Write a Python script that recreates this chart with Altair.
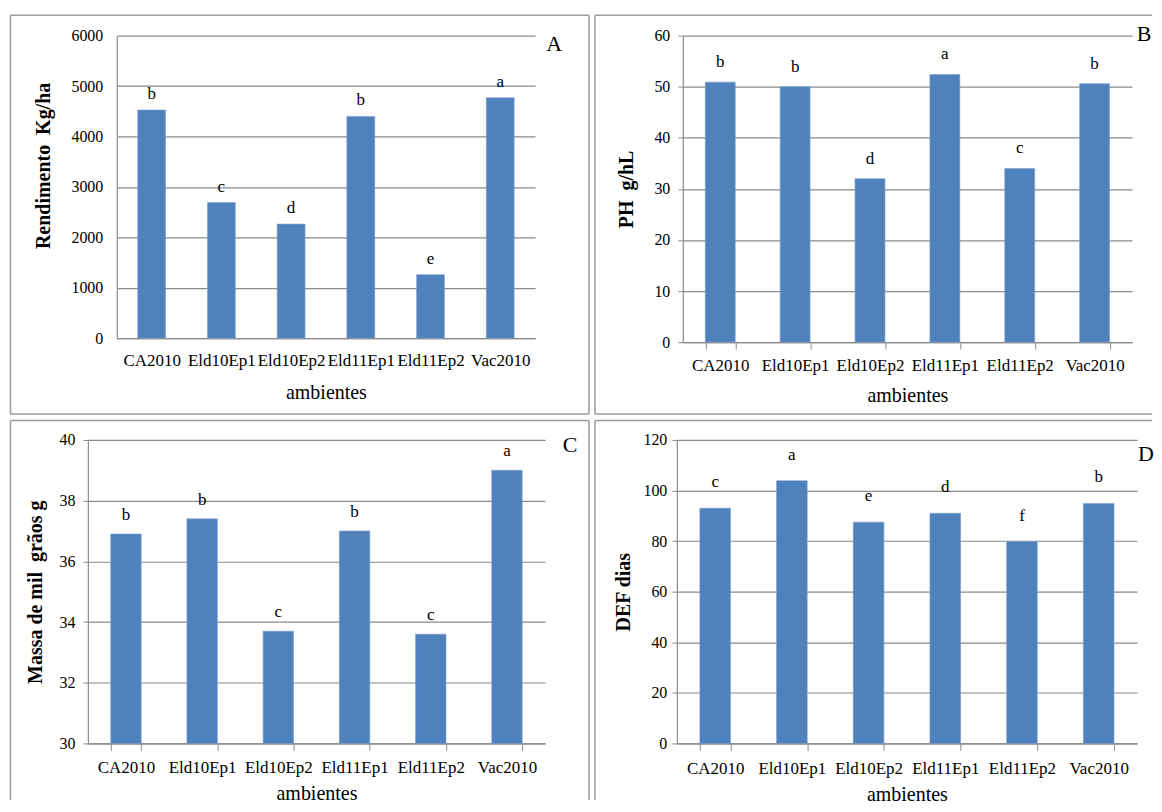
import altair as alt
import pandas as pd

categories = ["CA2010", "Eld10Ep1", "Eld10Ep2", "Eld11Ep1", "Eld11Ep2", "Vac2010"]

rendimento = [4525, 2690, 2262, 4398, 1259, 4768]
rendimento_letras = ["b", "c", "d", "b", "e", "a"]

ph = [50.9, 50.0, 32.0, 52.4, 34.0, 50.6]
ph_letras = ["b", "b", "d", "a", "c", "b"]

massa = [36.9, 37.4, 33.7, 37.0, 33.6, 39.0]
massa_letras = ["b", "b", "c", "b", "c", "a"]

def_dias = [93.0, 103.9, 87.5, 91.0, 79.8, 94.9]
def_letras = ["c", "a", "e", "d", "f", "b"]

y_ticks_a = [0, 1000, 2000, 3000, 4000, 5000, 6000]
y_ticks_b = [0, 10, 20, 30, 40, 50, 60]
y_ticks_c = [30, 32, 34, 36, 38, 40]
y_ticks_d = [0, 20, 40, 60, 80, 100, 120]

FONT = "Liberation Serif"
BAR = "#4F81BD"
GRID = "#8a8a8a"
FRAME = "#9a9a9a"
one = pd.DataFrame({"k": [0]})


def seg(x, x2, y, y2):
    return alt.Chart(one).mark_rule(color=FRAME, strokeWidth=1.5).encode(
        x=alt.value(x), x2=alt.value(x2), y=alt.value(y), y2=alt.value(y2)
    )


def panel(values, letters, ytitle, yticks, letter, w, h, shift, segs, lpos, dy,
          ticks, ylp, ytp, xlp, xtp, title_y=None):
    # w: visible plot width; shift: how far the y axis sits left of the group origin
    df = pd.DataFrame({"amb": categories, "val": values, "let": letters})
    ymin, ymax = yticks[0], yticks[-1]
    yaxis_kw = dict(values=yticks, format="d", title=ytitle, ticks=ticks, tickSize=5,
                    tickColor=GRID, labelPadding=ylp, titlePadding=ytp,
                    domainColor=GRID, gridColor=GRID, grid=True)
    if shift:
        yaxis_kw["offset"] = shift
    if title_y is not None:
        yaxis_kw["titleY"] = title_y
    xscale = alt.Scale(paddingInner=0.6, paddingOuter=0.3, range=[-shift, w - shift])
    yscale = alt.Scale(domain=[ymin, ymax], nice=False, zero=False)
    x = alt.X("amb:N", sort=categories, scale=xscale, title="ambientes",
              axis=alt.Axis(labelAngle=0, ticks=ticks, tickBand="extent", tickSize=7,
                            tickColor=GRID, domainColor=GRID, labelPadding=xlp,
                            titlePadding=xtp, labelOverlap=False, labelLimit=200,
                            grid=False))
    y = alt.Y("val:Q", scale=yscale, axis=alt.Axis(**yaxis_kw))
    base = alt.Chart(df)
    bars = base.mark_bar(color=BAR, stroke="#7ea0cf", strokeWidth=0.6).encode(
        x=x, y=y, y2=alt.datum(ymin))
    labels = base.mark_text(font=FONT, fontSize=17, baseline="alphabetic", dy=dy,
                            color="black").encode(
        x=alt.X("amb:N", sort=categories), y=alt.Y("val:Q"), text="let:N")
    tag = alt.Chart(one).mark_text(font=FONT, fontSize=22, color="black").encode(
        x=alt.value(lpos[0]), y=alt.value(lpos[1]), text=alt.value(letter))
    layers = [bars, labels, tag] + [seg(*s) for s in segs]
    return alt.layer(*layers).properties(width=w - shift, height=h)


pA = panel(rendimento, rendimento_letras, "Rendimento\u00a0 Kg/ha", y_ticks_a, "A",
           419, 303, 0,
           [(-106.5, 473, -20.5, -20.5), (-106.5, 473, 379, 379),
            (-106.5, -106.5, -20.5, 379), (473, 473, -20.5, 379)],
           (438, 8), -11, False, 14, 17, 14, 14, title_y=130)

pB = panel(ph, ph_letras, "PH\u00a0 g/hL", y_ticks_b, "B",
           450, 307, 0,
           [(-88, 470, -20.5, -20.5), (-88, 470, 379, 379), (-88, -88, -20.5, 379)],
           (462, -2), -15, True, 8, 17, 8, 12)

pC = panel(massa, massa_letras, "Massa de mil\u00a0 grãos g", y_ticks_c, "C",
           458, 304, 29,
           [(-106.5, 473, -19.5, -19.5), (-106.5, -106.5, -19.5, 361),
            (473, 473, -19.5, 361)],
           (454, 5), -14, True, 8, 13, 9, 8)

pD = panel(def_dias, def_letras, "DEF dias", y_ticks_d, "D",
           461, 304, 6,
           [(-88, 470, -19.5, -19.5), (-88, -88, -19.5, 361)],
           (464, 14), -21, True, 5, 9, 10, 8)

chart = alt.concat(
    pA, pB, pC, pD, columns=2, spacing=4
).properties(
    padding={"left": 1, "top": 5, "right": 0, "bottom": 0}
).configure_view(
    stroke=None
).configure_axis(
    labelFont=FONT, titleFont=FONT, labelFontSize=17, titleFontSize=20,
    labelColor="black", titleColor="black", titleFontWeight="normal",
    domainWidth=1.2, gridWidth=1.2
).configure_axisY(
    labelFontSize=16, titleFontSize=20, titleFontWeight="bold"
).configure_text(font=FONT)

chart.save("out.html", embed_options={"renderer": "svg", "actions": False})
